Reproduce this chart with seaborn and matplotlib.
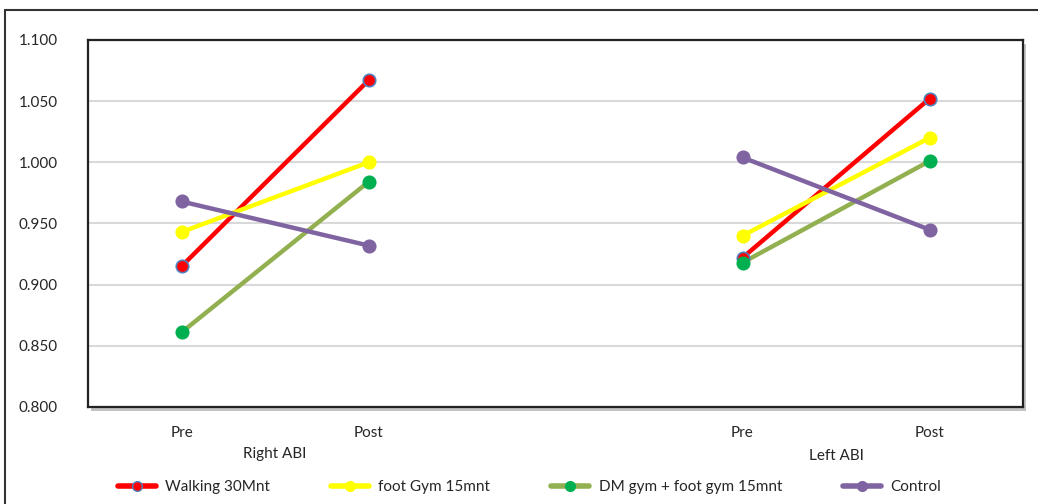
import numpy as np
import pandas as pd
import matplotlib.pyplot as plt
import matplotlib.patches as mpatches
from matplotlib.lines import Line2D
import seaborn as sns

# categories along the x axis (blank slot separates the two groups)
categories = ["Pre", "Post", "", "Pre", "Post"]
groups = ["Right ABI", "Left ABI"]
group_slots = {"Right ABI": [0, 1], "Left ABI": [3, 4]}

series = ["Walking 30Mnt", "foot Gym 15mnt", "DM gym + foot gym 15mnt", "Control"]
right_pre = [0.915, 0.943, 0.861, 0.968]
right_post = [1.067, 1.000, 0.984, 0.932]
left_pre = [0.922, 0.940, 0.918, 1.004]
left_post = [1.052, 1.020, 1.001, 0.945]

line_colors = ["#FF0000", "#FFFF00", "#92B050", "#8064A2"]
marker_colors = ["#FF0000", "#FFFF00", "#00B050", "#8064A2"]
marker_edges = ["#4F81BD", "#FFFF00", "#00B050", "#8064A2"]

rows = []
for i, s in enumerate(series):
    for g, pre, post in [("Right ABI", right_pre, right_post), ("Left ABI", left_pre, left_post)]:
        rows.append({"series": s, "group": g, "x": group_slots[g][0], "value": pre[i]})
        rows.append({"series": s, "group": g, "x": group_slots[g][1], "value": post[i]})
df = pd.DataFrame(rows)

sns.set_theme(style="white")
plt.rcParams["font.family"] = ["Lato", "DejaVu Sans"]

fig = plt.figure(figsize=(10.38, 5.04), dpi=100)
ax = fig.add_axes([88 / 1038, 1 - 407 / 504, 935 / 1038, 367 / 504])

# shadow behind the plot area
shadow = mpatches.Rectangle((91 / 1038, 1 - 411 / 504), 935 / 1038, 367 / 504,
                            transform=fig.transFigure, facecolor="#9a9a9a",
                            edgecolor="none", zorder=-1, alpha=0.6)
fig.patches.append(shadow)

# outer chart frame (left and top edges visible)
fig.add_artist(Line2D([5 / 1038, 5 / 1038], [0, 1 - 10 / 504], transform=fig.transFigure,
                      color="#333333", lw=1.5))
fig.add_artist(Line2D([5 / 1038, 1], [1 - 10 / 504, 1 - 10 / 504], transform=fig.transFigure,
                      color="#333333", lw=1.5))

for i, s in enumerate(series):
    sub = df[df["series"] == s]
    sns.lineplot(data=sub, x="x", y="value", units="group", estimator=None,
                 color=line_colors[i], lw=3.2, ax=ax, legend=False, zorder=2 + i * 0.1)
    sns.scatterplot(data=sub, x="x", y="value", color=marker_colors[i],
                    edgecolor=marker_edges[i], linewidth=1.2, s=80, ax=ax,
                    legend=False, zorder=3 + i * 0.1)

ax.set_xlim(-0.5, len(categories) - 0.5)
ax.set_ylim(0.8, 1.1)
ax.set_yticks(np.arange(0.8, 1.1001, 0.05))
ax.set_yticklabels(["{:.3f}".format(v) for v in np.arange(0.8, 1.1001, 0.05)], fontsize=11)
ax.set_xticks(range(len(categories)))
ax.set_xticklabels(categories, fontsize=11)
ax.tick_params(axis="both", length=0)
ax.tick_params(axis="y", pad=22)
ax.tick_params(axis="x", pad=14)
ax.set_xlabel("")
ax.set_ylabel("")
ax.grid(axis="y", color="#d9d9d9", lw=1.5)
ax.set_axisbelow(True)
for sp in ax.spines.values():
    sp.set_color("#222222")
    sp.set_linewidth(1.6)

# group labels under the ticks
ax.text(0.5, -0.128, "Right ABI", transform=ax.get_xaxis_transform(), ha="center",
        va="center", fontsize=11)
ax.text(3.5, -0.133, "Left ABI", transform=ax.get_xaxis_transform(), ha="center",
        va="center", fontsize=11)

handles = [Line2D([], [], color=line_colors[i], lw=4, marker="o", markersize=7,
                  markerfacecolor=marker_colors[i], markeredgecolor=marker_edges[i])
           for i in range(len(series))]
fig.legend(handles, series, loc="center", bbox_to_anchor=(0.51, 1 - 487 / 504), ncol=4,
           frameon=False, fontsize=11, handlelength=2.5, columnspacing=4, handletextpad=0.6)

fig.savefig("out.png", dpi=100, facecolor="white")
